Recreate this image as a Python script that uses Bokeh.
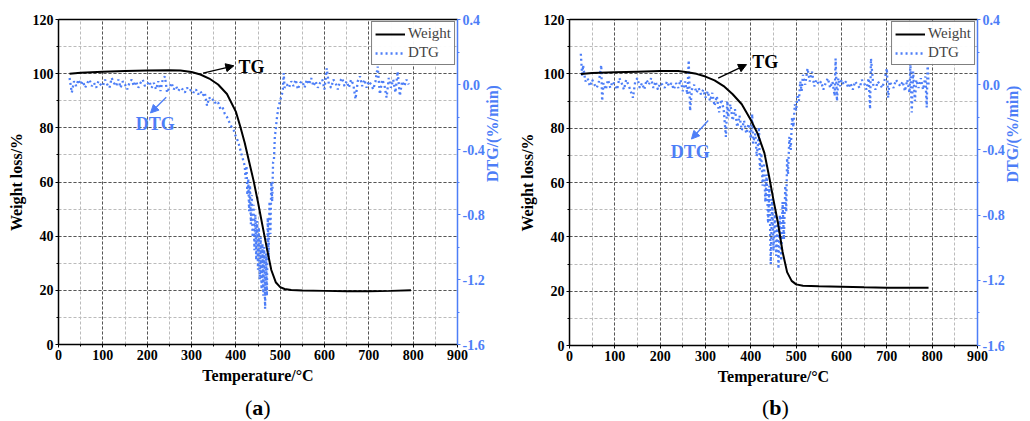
import math
from bokeh.plotting import figure
from bokeh.models import (Range1d, LinearAxis, SingleIntervalTicker, FixedTicker,
                          PrintfTickFormatter, Label, Arrow, NormalHead, Legend, LegendItem, Div)
from bokeh.layouts import row, column
from bokeh.embed import file_html
from bokeh.resources import INLINE

FONT = "Liberation Serif"
BLUE = "#4D7EF7"

# ---------------- data: panel (a) ----------------
temp_a = [25, 50, 100, 150, 200, 250, 275, 300, 320, 340, 360, 380, 400, 410, 420, 430,
          440, 450, 460, 470, 480, 490, 500, 510, 525, 550, 600, 650, 700, 750, 795]
weight_a = [100.0, 100.3, 100.7, 101.0, 101.2, 101.3, 101.2, 100.6, 99.7, 98.2, 96.0, 92.5,
            86.0, 80.5, 74.5, 67.5, 60.5, 52.5, 44.0, 35.5, 27.5, 23.0, 21.2, 20.5, 20.1,
            19.9, 19.8, 19.7, 19.7, 19.8, 20.0]

dtg_temp_a = [25, 30, 35, 40, 45, 50, 55, 60, 65, 70, 75, 80, 85, 90, 95, 100, 105, 110, 115,
              120, 125, 130, 135, 140, 145, 150, 155, 160, 165, 170, 175, 180, 185, 190, 195,
              200, 205, 210, 215, 220, 225, 230, 235, 240, 245, 250, 255, 260, 265, 270, 275,
              280, 285, 290, 295, 300, 305, 310, 315, 320, 325, 330, 335, 340, 345, 350, 355,
              360, 365, 370, 375, 380, 385, 390, 395, 400, 405, 410, 415, 420,
              422, 424, 426, 428, 430, 432, 434, 436, 438, 440, 442, 444, 446, 448, 450, 452,
              454, 456, 458, 460, 462, 464, 466, 468, 470, 472, 474, 476, 478, 480, 482, 484,
              486, 488, 490, 492, 494, 496, 498, 500, 502, 504, 506, 508, 510,
              515, 520, 525, 530, 535, 540, 545, 550, 555, 560, 565, 570, 575, 580, 585, 590,
              595, 600, 605, 610, 615, 620, 625, 630, 635, 640, 645, 650, 655, 660, 665, 670,
              675, 680, 685, 690, 695, 700, 705, 710, 715, 720, 725, 730, 735, 740, 745, 750,
              755, 760, 765, 770, 775, 780, 785, 790]
dtg_a = [0.04, -0.05, 0.02, -0.01, 0.03, 0.00, 0.02, -0.02, 0.01, 0.03, -0.01, 0.01, -0.02,
         0.02, 0.00, -0.01, 0.03, 0.00, -0.02, 0.04, 0.01, -0.01, 0.03, -0.02, 0.02, 0.00,
         -0.03, 0.01, 0.03, -0.01, 0.02, -0.02, 0.01, 0.03, -0.01, 0.00, 0.02, -0.02, 0.01,
         -0.03, 0.02, -0.04, 0.03, 0.05, -0.05, -0.02, 0.01, -0.03, -0.01, -0.04, -0.02,
         -0.03, -0.05, -0.02, -0.04, -0.03, -0.05, -0.03, -0.06, -0.04, -0.07, -0.05, -0.13,
         -0.08, -0.10, -0.09, -0.12, -0.11, -0.15, -0.14, -0.18, -0.20, -0.23, -0.26, -0.28,
         -0.32, -0.35, -0.40, -0.45, -0.50,
         -0.58, -0.50, -0.68, -0.58, -0.78, -0.62, -0.86, -0.68, -0.94, -0.74, -1.02, -0.80,
         -1.08, -0.84, -1.14, -0.88, -1.20, -0.94, -1.26, -0.98, -1.30, -1.00, -1.38, -1.04,
         -1.30, -0.82, -1.08, -0.72, -0.92, -0.60, -0.72, -0.48, -0.46, -0.32, -0.28, -0.22,
         -0.18, -0.14, -0.12, -0.10, -0.08, -0.06, -0.03, 0.07, -0.02,
         0.00, -0.02, 0.02, -0.01, 0.03, -0.03, 0.01, 0.02, -0.02, 0.03, 0.00, 0.04, -0.01,
         0.02, -0.02, 0.01, 0.03, -0.03, 0.10, 0.00, -0.02, 0.03, 0.01, -0.03, 0.02, 0.04,
         -0.01, 0.02, -0.02, 0.03, 0.00, -0.09, 0.02, 0.05, -0.01, 0.03, -0.02, 0.02, 0.00,
         -0.03, 0.02, 0.11, -0.06, 0.03, 0.00, -0.08, 0.04, -0.02, 0.03, -0.05, 0.08, -0.07,
         0.02, -0.01, 0.03, 0.00]

# ---------------- data: panel (b) ----------------
temp_b = [25, 50, 100, 150, 200, 240, 260, 280, 300, 320, 340, 360, 380, 400, 415, 430, 440,
          450, 460, 470, 480, 490, 500, 515, 550, 600, 650, 700, 750, 792]
weight_b = [99.9, 100.3, 100.6, 100.8, 101.0, 101.0, 100.6, 100.0, 99.0, 97.6, 95.5, 92.5,
            88.8, 83.0, 78.0, 70.8, 62.5, 53.5, 45.0, 34.5, 27.0, 23.8, 22.5, 22.0, 21.8,
            21.6, 21.4, 21.3, 21.3, 21.3]

dtg_temp_b = [25, 28, 30, 35, 40, 45, 50, 55, 60, 65, 70, 72, 75, 80, 85, 90, 95, 100, 105,
              110, 115, 120, 125, 130, 135, 140, 145, 150, 155, 160, 165, 170, 175, 180, 185,
              190, 195, 200, 205, 210, 215, 220, 225, 230, 235, 240, 245, 250, 255, 260, 263,
              266, 270, 275, 280, 285, 290, 295, 300, 305, 310, 315, 320, 325, 330, 335, 340,
              345, 348, 350, 355, 360, 365, 370, 375, 380, 385, 390, 395, 400, 403, 405, 410,
              413, 416, 418, 420, 423, 426, 429, 432, 435, 438, 441, 444, 447, 450, 453, 456,
              459, 461, 464, 467, 470, 473, 476, 478, 480, 482, 485, 488, 491, 494, 497, 500,
              503, 506, 509, 512, 515, 520, 525, 530, 535, 540, 545, 550, 555, 560, 565, 570,
              575, 580, 585, 587, 590, 593, 597, 600, 605, 610, 615, 620, 625, 630, 635, 640,
              645, 650, 655, 660, 663, 665, 670, 675, 680, 685, 690, 695, 700, 703, 706, 710,
              715, 720, 725, 730, 735, 740, 745, 750, 752, 755, 758, 762, 765, 770, 775, 780,
              785, 788, 790, 792]
dtg_b = [0.19, 0.05, 0.12, 0.02, 0.04, -0.01, 0.03, 0.00, -0.02, 0.02, 0.12, -0.10, 0.01,
         -0.03, 0.03, -0.02, 0.02, 0.00, -0.03, 0.04, 0.01, -0.03, 0.03, 0.00, -0.04, -0.08,
         0.02, 0.04, -0.02, 0.01, -0.03, 0.03, 0.00, 0.04, -0.02, 0.02, -0.03, 0.01, 0.00,
         -0.02, 0.02, -0.01, 0.01, -0.03, 0.01, -0.02, 0.03, -0.04, 0.02, -0.06, 0.15, -0.16,
         -0.03, 0.00, -0.05, -0.02, -0.06, -0.03, -0.08, -0.04, -0.10, -0.05, -0.13, -0.07,
         -0.17, -0.09, -0.15, -0.32, -0.10, -0.20, -0.12, -0.22, -0.15, -0.26, -0.19, -0.28,
         -0.22, -0.30, -0.24, -0.33, -0.18, -0.36, -0.30, -0.44, -0.36, -0.26, -0.52, -0.42,
         -0.62, -0.48, -0.72, -0.55, -0.85, -0.62, -1.10, -0.70, -1.02, -0.78, -1.05, -0.85,
         -1.13, -0.80, -1.08, -0.72, -0.95, -0.62, -0.78, -0.45, -0.55, -0.32, -0.40, -0.20,
         -0.26, -0.12, -0.16, -0.06, -0.10, 0.02, -0.04, 0.06, 0.00, 0.10, 0.02, 0.08, -0.01,
         0.03, 0.00, 0.02, -0.03, 0.01, 0.04, -0.02, 0.02, -0.07, 0.16, -0.10, 0.04, -0.01,
         0.03, 0.00, 0.02, -0.02, 0.01, -0.03, 0.02, 0.00, -0.02, 0.03, 0.01, -0.03, 0.04,
         -0.15, 0.16, 0.00, -0.03, 0.02, 0.00, -0.02, 0.03, 0.10, -0.08, 0.02, 0.00, -0.02,
         0.03, 0.01, -0.01, 0.02, -0.04, 0.03, -0.05, 0.13, -0.17, 0.08, -0.10, 0.03, -0.02,
         0.04, -0.03, 0.05, -0.14, 0.13, 0.00]

x_ticks_interval = 100
y_ticks_interval = 20
dtg_ticks = [-1.6, -1.2, -0.8, -0.4, 0.0, 0.4]
dtg_minor = [-1.6, -1.4, -1.2, -1.0, -0.8, -0.6, -0.4, -0.2, 0.0, 0.2, 0.4]


def style_axis(ax, color="black"):
    ax.axis_line_color = color
    ax.axis_line_width = 1.5
    ax.major_tick_line_color = color
    ax.minor_tick_line_color = color
    ax.major_tick_out = 3
    ax.major_tick_in = 0
    ax.minor_tick_out = 2
    ax.minor_tick_in = 0
    ax.major_label_text_font = FONT
    ax.major_label_text_font_style = "bold"
    ax.major_label_text_font_size = "14px"
    ax.major_label_text_color = color
    ax.major_label_standoff = 2
    ax.axis_label_text_font = FONT
    ax.axis_label_text_font_style = "bold"
    ax.axis_label_text_font_size = "16px"
    ax.axis_label_text_color = color


def make_panel(tw, ww, td, dd, fw, fh, bl, br, ann):
    p = figure(frame_width=fw, frame_height=fh,
               x_range=Range1d(0, 900), y_range=Range1d(0, 120),
               output_backend="svg", toolbar_location=None,
               min_border_left=bl, min_border_right=br,
               min_border_top=19, min_border_bottom=47)
    p.extra_y_ranges = {"dtg": Range1d(-1.6, 0.4)}
    p.outline_line_color = None
    p.background_fill_color = "white"
    p.border_fill_color = "white"

    xa = p.xaxis[0]
    xa.ticker = SingleIntervalTicker(interval=x_ticks_interval, num_minor_ticks=2)
    xa.axis_label = "Temperature/°C"
    style_axis(xa)
    xa.axis_label_standoff = 4

    ya = p.yaxis[0]
    ya.ticker = SingleIntervalTicker(interval=y_ticks_interval, num_minor_ticks=2)
    ya.axis_label = "Weight loss/%"
    style_axis(ya)
    ya.axis_label_standoff = 5

    ra = LinearAxis(y_range_name="dtg", axis_label="DTG/(%/min)",
                    ticker=FixedTicker(ticks=dtg_ticks, minor_ticks=dtg_minor),
                    formatter=PrintfTickFormatter(format="%.1f"))
    style_axis(ra, BLUE)
    ra.axis_label_standoff = 5
    try:
        ra.axis_label_orientation = math.pi / 2
    except Exception:
        pass
    p.add_layout(ra, "right")

    ta = LinearAxis(ticker=FixedTicker(ticks=[]), major_tick_out=0, major_tick_in=0,
                    minor_tick_out=0, minor_tick_in=0, axis_line_color="black",
                    axis_line_width=1.5)
    p.add_layout(ta, "above")

    for g in (p.xgrid[0], p.ygrid[0]):
        g.grid_line_color = "#555555"
        g.grid_line_dash = "3 2"
        g.grid_line_width = 1
        g.minor_grid_line_color = "#bbbbbb"
        g.minor_grid_line_dash = "3 2"
        g.minor_grid_line_width = 1

    dline = p.line(td, dd, y_range_name="dtg", line_color=BLUE, line_width=2.3,
                   line_dash="2 3")
    wline = p.line(tw, ww, line_color="black", line_width=2)

    leg = Legend(items=[LegendItem(label="Weight", renderers=[wline]),
                        LegendItem(label="DTG", renderers=[dline])],
                 location="top_right")
    leg.label_text_font = FONT
    leg.label_text_font_size = "15px"
    leg.border_line_color = "black"
    leg.border_line_width = 1.3
    leg.glyph_width = 30
    leg.glyph_height = 14
    leg.label_height = 14
    leg.spacing = 2
    leg.padding = 3
    leg.margin = 2
    leg.label_standoff = 3
    p.add_layout(leg)

    (tgx, tgy, ta0, ta1, dgx, dgy, da0, da1) = ann
    p.add_layout(Label(x=tgx, y=tgy, text="TG", text_font=FONT, text_font_style="bold",
                       text_font_size="18px", text_color="black", text_baseline="middle"))
    p.add_layout(Arrow(x_start=ta0[0], y_start=ta0[1], x_end=ta1[0], y_end=ta1[1],
                       line_color="black", line_width=1.3,
                       end=NormalHead(size=8, fill_color="black", line_color="black")))
    p.add_layout(Label(x=dgx, y=dgy, text="DTG", text_font=FONT, text_font_style="bold",
                       text_font_size="18px", text_color=BLUE, text_baseline="middle"))
    p.add_layout(Arrow(x_start=da0[0], y_start=da0[1], x_end=da1[0], y_end=da1[1],
                       line_color=BLUE, line_width=1.3,
                       end=NormalHead(size=8, fill_color=BLUE, line_color=BLUE)))
    return p


def make_caption(letter, pad):
    return Div(text="(<b>%s</b>)" % letter, width=515, height=30, margin=0,
               styles={"font-family": "Liberation Serif", "font-size": "22px",
                       "line-height": "26px", "padding-left": "%dpx" % pad,
                       "padding-top": "3px", "color": "black"})


ann_a = (406, 102.3, (326, 100.2), (395.5, 102.9), 174, 81.6, (243, 91.3), (207.5, 85.5))
ann_b = (403, 104.5, (328, 98.4), (390.5, 103.4), 223.5, 71.1, (306, 82.8), (269, 76.0))

pa = make_panel(temp_a, weight_a, dtg_temp_a, dtg_a, 399, 325, 58, 58, ann_a)
pb = make_panel(temp_b, weight_b, dtg_temp_b, dtg_b, 408, 326, 53, 54, ann_b)

layout = column(row(pa, pb), row(make_caption("a", 245), make_caption("b", 247)),
                spacing=0)
open("out.html", "w").write(file_html(layout, INLINE))
